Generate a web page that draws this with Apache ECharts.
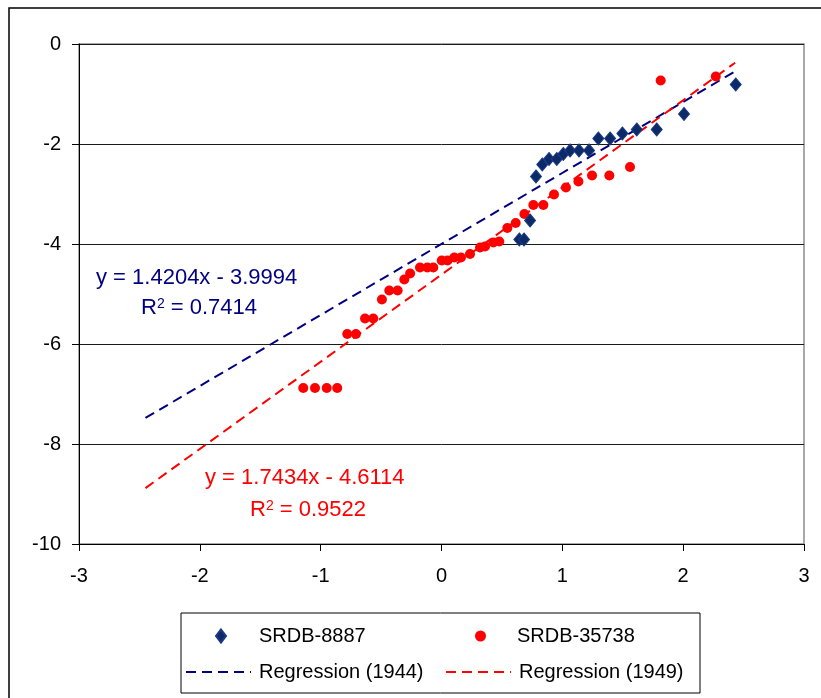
<!DOCTYPE html>
<html>
<head>
<meta charset="utf-8">
<script src="https://cdn.jsdelivr.net/npm/echarts@6/dist/echarts.min.js"></script>
<style>html,body{margin:0;padding:0;background:#fff}#c{width:821px;height:698px}</style>
</head>
<body>
<div id="c"></div>
<script>
// SRDB-8887 points [x, y]
const srdb8887 = [
  [0.644,-3.91],[0.683,-3.91],[0.733,-3.53],[0.782,-2.65],[0.834,-2.41],
  [0.890,-2.30],[0.954,-2.30],[1.008,-2.20],[1.064,-2.13],[1.138,-2.13],
  [1.221,-2.13],[1.298,-1.89],[1.395,-1.89],[1.497,-1.79],[1.616,-1.71],
  [1.781,-1.71],[2.007,-1.40],[2.435,-0.81]
];
// SRDB-35738 points [x, y]
const srdb35738 = [
  [-1.144,-6.88],[-1.047,-6.88],[-0.950,-6.88],[-0.863,-6.88],[-0.780,-5.80],
  [-0.708,-5.80],[-0.633,-5.49],[-0.565,-5.49],[-0.493,-5.11],[-0.432,-4.93],
  [-0.363,-4.93],[-0.308,-4.71],[-0.260,-4.59],[-0.178,-4.47],[-0.117,-4.47],
  [-0.068,-4.47],[0.002,-4.33],[0.050,-4.33],[0.106,-4.27],[0.161,-4.27],
  [0.236,-4.20],[0.319,-4.07],[0.360,-4.05],[0.429,-3.97],[0.478,-3.95],
  [0.545,-3.68],[0.614,-3.58],[0.686,-3.40],[0.760,-3.22],[0.843,-3.22],
  [0.931,-3.01],[1.030,-2.87],[1.133,-2.75],[1.246,-2.63],[1.389,-2.63],
  [1.560,-2.46],[1.814,-0.73],[2.270,-0.65]
];
// Regression coefficients [slope, intercept] and x extent of the trend lines
const reg1944 = [1.4204, -3.9994];
const reg1949 = [1.7434, -4.6114];
const trendX = [-2.45, 2.43];
const seriesNames = ['SRDB-8887','SRDB-35738','Regression (1944)','Regression (1949)'];
const eqTexts = ['y = 1.4204x - 3.9994','R{s|2} = 0.7414','y = 1.7434x - 4.6114','R{s|2} = 0.9522'];
const xTicks = {min:-3, max:3, interval:1};
const yTicks = {min:-10, max:0, interval:2};

const line = (c) => trendX.map(x => [x, c[0]*x + c[1]]);
const FONT = 'Liberation Sans';
const BLUE = '#000080', NAVY_FILL = '#0b2a66', RED = '#ff0000';

function legendAt(item, left, top, w, h, padLeft) {
  return {
    left: left, top: top, padding: 0, itemGap: 0, itemWidth: w, itemHeight: h,
    data: [item],
    textStyle: {fontFamily: FONT, fontSize: 20, color: '#000', lineHeight: 24, padding: [0,0,0,padLeft]}
  };
}

const chart = echarts.init(document.getElementById('c'));
chart.setOption({
  backgroundColor: '#fff',
  animation: false,
  grid: {left: 79, top: 44, right: 17, bottom: 154, show: true, borderColor: '#8c8c8c', borderWidth: 1.5},
  xAxis: {
    type: 'value', min: xTicks.min, max: xTicks.max, interval: xTicks.interval,
    axisLine: {show: true, onZero: false, lineStyle: {color: '#000', width: 1}},
    axisTick: {show: true, length: 7, lineStyle: {color: '#000'}},
    axisLabel: {margin: 22, fontFamily: FONT, fontSize: 20, color: '#000'},
    splitLine: {show: false}
  },
  yAxis: {
    type: 'value', min: yTicks.min, max: yTicks.max, interval: yTicks.interval,
    axisLine: {show: true, onZero: false, lineStyle: {color: '#000', width: 1}},
    axisTick: {show: true, length: 7, lineStyle: {color: '#000'}},
    axisLabel: {margin: 18, fontFamily: FONT, fontSize: 20, color: '#000'},
    splitLine: {show: true, lineStyle: {color: '#1a1a1a', width: 1}}
  },
  legend: [
    legendAt({name: seriesNames[0], icon: 'diamond'}, 215, 624, 10, 13, 28),
    legendAt({name: seriesNames[1], icon: 'circle'}, 475, 624, 11, 11, 26),
    legendAt({name: seriesNames[2], itemStyle: {opacity: 0}}, 185, 660, 65, 12, 3),
    legendAt({name: seriesNames[3], itemStyle: {opacity: 0}}, 445, 660, 65, 12, 3)
  ],
  series: [
    {name: seriesNames[0], type: 'scatter', symbol: 'diamond', symbolSize: [11, 13], data: srdb8887,
     itemStyle: {color: NAVY_FILL, borderColor: '#1b3a86', borderWidth: 1, opacity: 1}, z: 4},
    {name: seriesNames[1], type: 'scatter', symbol: 'circle', symbolSize: 10, data: srdb35738,
     itemStyle: {color: RED, opacity: 1}, z: 3},
    {name: seriesNames[2], type: 'line', data: line(reg1944), symbol: 'none', showSymbol: false,
     lineStyle: {color: BLUE, width: 2, type: [10,6]}, itemStyle: {color: BLUE}, z: 2},
    {name: seriesNames[3], type: 'line', data: line(reg1949), symbol: 'none', showSymbol: false,
     lineStyle: {color: RED, width: 2, type: [10,6]}, itemStyle: {color: RED}, z: 2}
  ],
  graphic: [
    {type: 'rect', shape: {x: 9, y: 8, width: 900, height: 800}, style: {fill: 'none', stroke: '#000', lineWidth: 1.5}, silent: true},
    {type: 'rect', shape: {x: 181, y: 613, width: 519, height: 80}, style: {fill: 'none', stroke: '#000', lineWidth: 1}, silent: true},
    {type: 'text', left: 96, top: 267, style: {text: eqTexts[0], fill: BLUE, font: '22px "Liberation Sans"'}},
    {type: 'text', left: 141, top: 297, style: {text: eqTexts[1], fill: BLUE, font: '22px "Liberation Sans"',
      rich: {s: {fontSize: 14, fontFamily: FONT, fill: BLUE, verticalAlign: 'top'}}}},
    {type: 'text', left: 205, top: 467, style: {text: eqTexts[2], fill: RED, font: '22px "Liberation Sans"'}},
    {type: 'text', left: 250, top: 499, style: {text: eqTexts[3], fill: RED, font: '22px "Liberation Sans"',
      rich: {s: {fontSize: 14, fontFamily: FONT, fill: RED, verticalAlign: 'top'}}}}
  ]
});
</script>
</body>
</html>
